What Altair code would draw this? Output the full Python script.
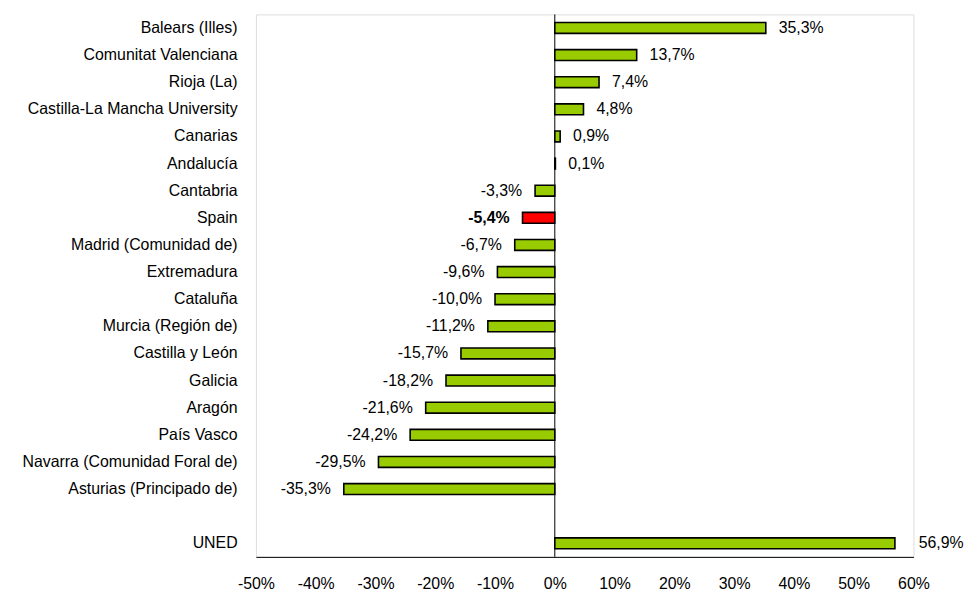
import altair as alt
import pandas as pd

regions = [
    "Balears (Illes)", "Comunitat Valenciana", "Rioja (La)",
    "Castilla-La Mancha University", "Canarias", "Andalucía", "Cantabria",
    "Spain", "Madrid (Comunidad de)", "Extremadura", "Cataluña",
    "Murcia (Región de)", "Castilla y León", "Galicia", "Aragón",
    "País Vasco", "Navarra (Comunidad Foral de)", "Asturias (Principado de)",
    "UNED",
]
values = [35.3, 13.7, 7.4, 4.8, 0.9, 0.1, -3.3, -5.4, -6.7, -9.6, -10.0,
          -11.2, -15.7, -18.2, -21.6, -24.2, -29.5, -35.3, 56.9]
x_ticks = [-50, -40, -30, -20, -10, 0, 10, 20, 30, 40, 50, 60]

# y domain with an empty slot before UNED
y_domain = regions[:-1] + [" "] + ["UNED"]

df = pd.DataFrame({"region": regions, "value": values})
df["label"] = [f"{v:.1f}".replace(".", ",") + "%" for v in values]

FONT = "Liberation Sans"
FS = 16

x_enc = alt.X(
    "value:Q",
    scale=alt.Scale(domain=[-50, 60], nice=False, zero=False),
    axis=alt.Axis(values=x_ticks, labelExpr="datum.value + '%'", title=None,
                  grid=False, ticks=False, domain=True, domainColor="black",
                  domainWidth=1, labelPadding=19, labelFont=FONT,
                  labelFontSize=FS, labelColor="black", labelFlush=False,
                  labelOverlap=False),
)
y_enc = alt.Y(
    "region:N",
    scale=alt.Scale(domain=y_domain, paddingInner=0.6, paddingOuter=0.3),
    sort=y_domain,
    axis=alt.Axis(title=None, ticks=False, domain=False, labelPadding=19,
                  labelFont=FONT, labelFontSize=FS, labelColor="black",
                  labelLimit=400),
)

base = alt.Chart(df)

bars = base.mark_bar(stroke="black", strokeWidth=1.6).encode(
    x=x_enc,
    y=y_enc,
    color=alt.condition(alt.datum.region == "Spain", alt.value("#FF0000"),
                        alt.value("#99CC00")),
)

zero = alt.Chart(pd.DataFrame({"z": [0]})).mark_rule(
    color="black", strokeWidth=1).encode(x="z:Q")

txt_common = dict(font=FONT, fontSize=FS, color="black", baseline="middle")

pos = base.transform_filter(
    "datum.value >= 0 && datum.region != 'UNED'").mark_text(
    align="left", dx=13, **txt_common).encode(
    x="value:Q", y=alt.Y("region:N", sort=y_domain), text="label:N")

neg = base.transform_filter(
    "datum.value < 0 && datum.region != 'Spain'").mark_text(
    align="right", dx=-13, **txt_common).encode(
    x="value:Q", y=alt.Y("region:N", sort=y_domain), text="label:N")

spain = base.transform_filter("datum.region == 'Spain'").mark_text(
    align="right", dx=-13, fontWeight="bold", **txt_common).encode(
    x="value:Q", y=alt.Y("region:N", sort=y_domain), text="label:N")

uned = base.transform_filter("datum.region == 'UNED'").mark_text(
    align="left", dx=24, **txt_common).encode(
    x="value:Q", y=alt.Y("region:N", sort=y_domain), text="label:N")

chart = alt.layer(zero, bars, pos, neg, spain, uned).properties(
    width=663, height=547,
    autosize=alt.AutoSizeParams(type="none"),
    padding={"left": 250, "top": 4, "right": 53, "bottom": 37},
).configure_view(
    stroke="#A6A6A6", strokeWidth=1
).configure(background="white")

chart.save("out.html", embed_options={"renderer": "svg", "actions": False})
